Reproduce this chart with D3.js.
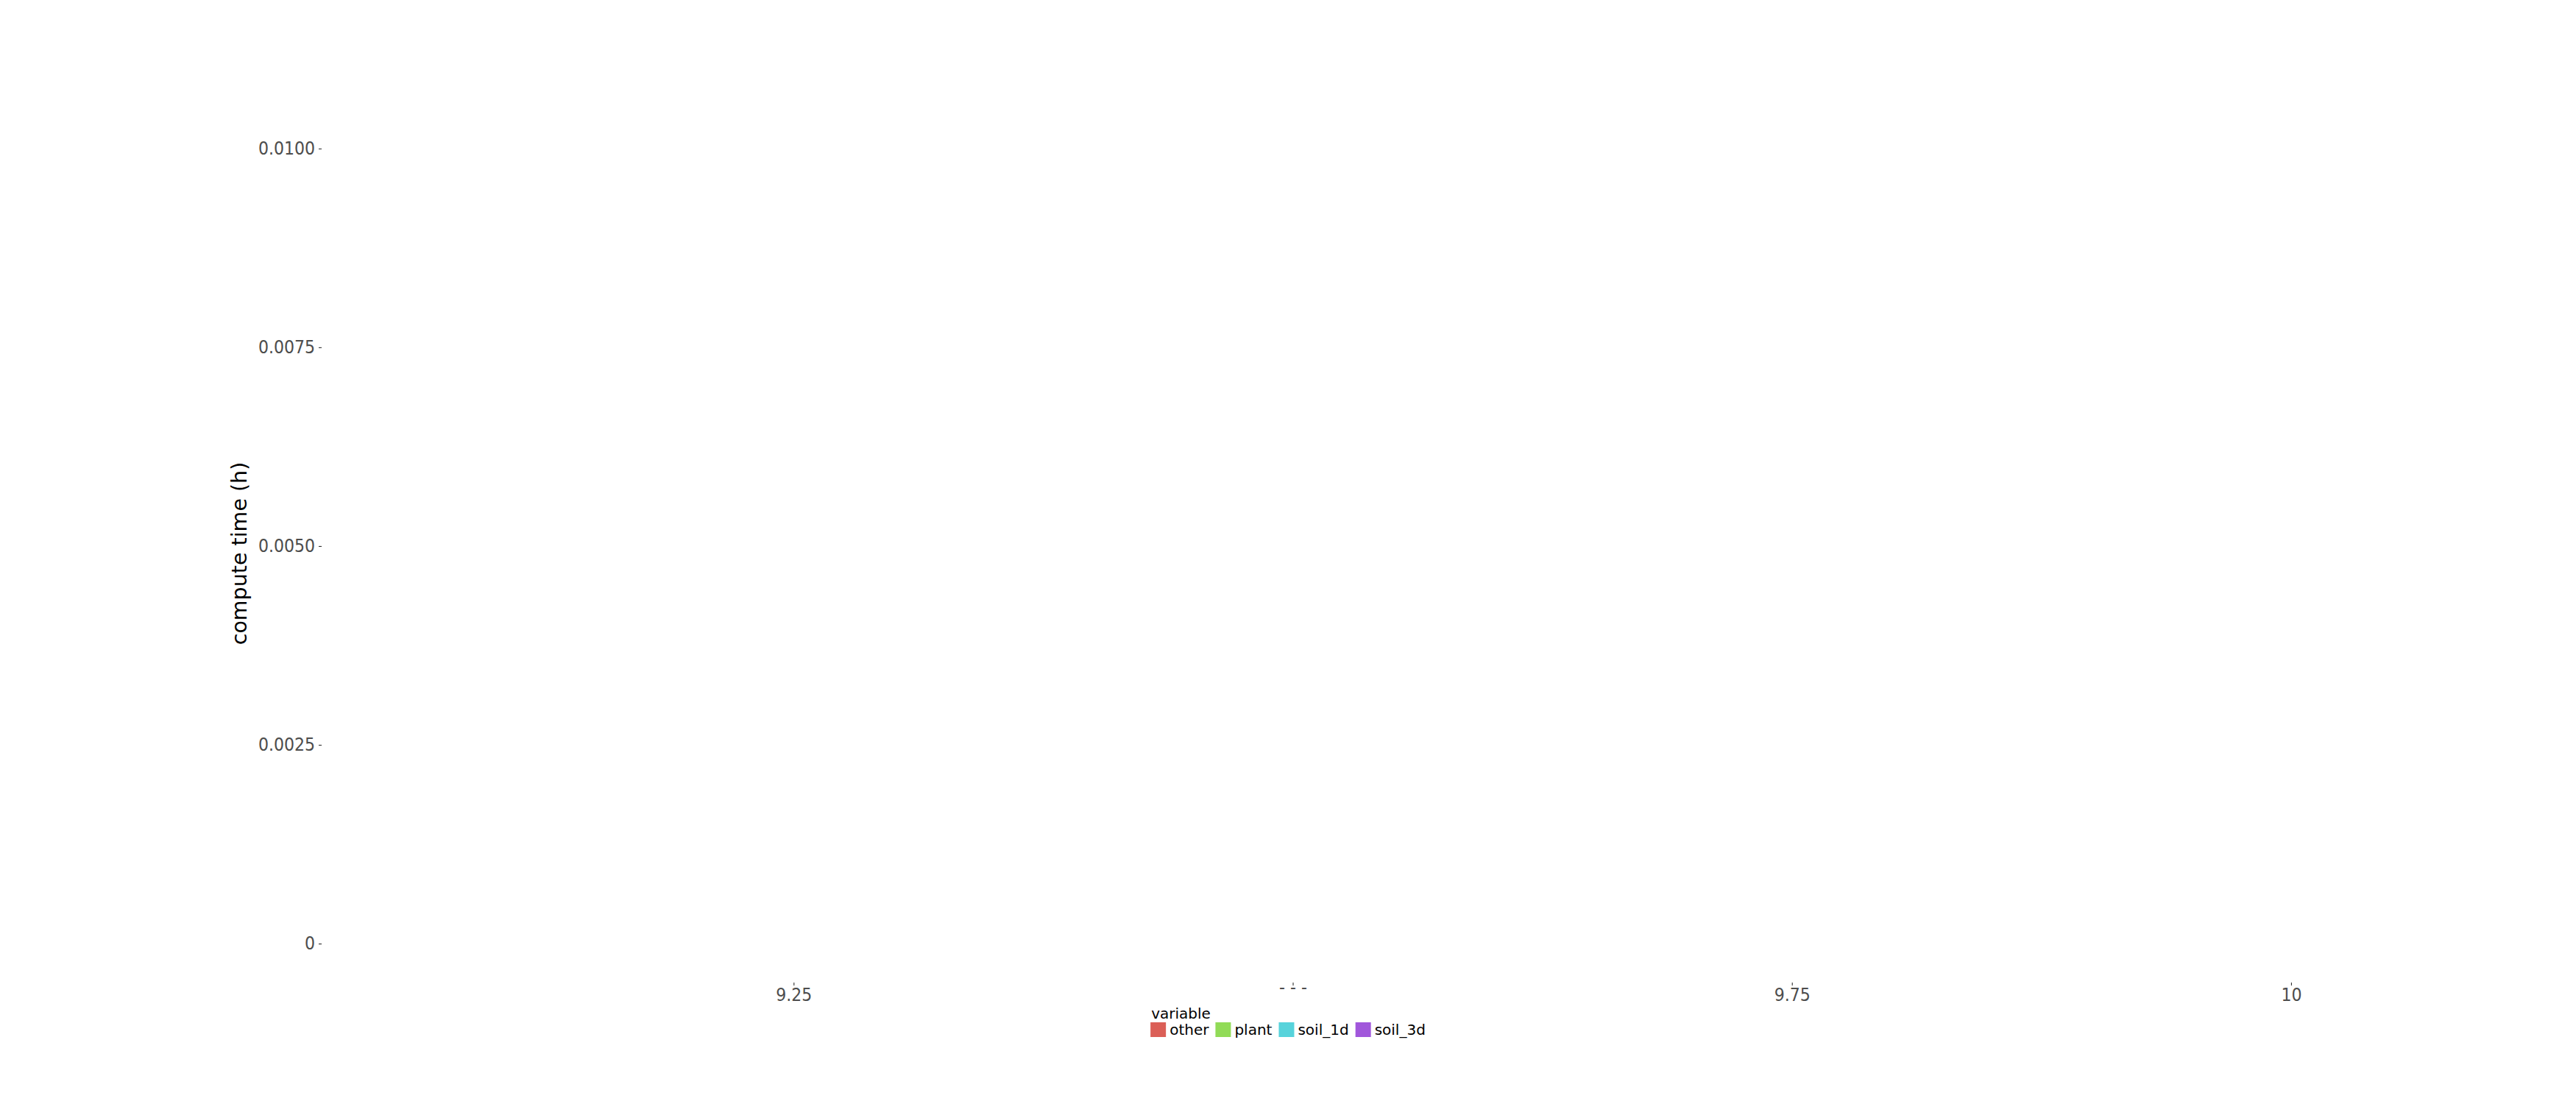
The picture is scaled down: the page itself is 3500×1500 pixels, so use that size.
<!DOCTYPE html>
<html>
<head>
<meta charset="utf-8">
<script src="https://d3js.org/d3.v7.min.js"></script>
<style>
  html, body { margin: 0; padding: 0; background: #ffffff; }
  svg { display: block; }
  .tick text { font-family: "DejaVu Sans Condensed", "DejaVu Sans", sans-serif; font-stretch: condensed; }
</style>
</head>
<body>
<svg id="chart" width="3500" height="1500"></svg>
<script>
// ---- data ----
const categories = ["other", "plant", "soil_1d", "soil_3d"];
const colors = ["#db5f57", "#91db57", "#57d3db", "#a157db"];
const yTicks = [0, 0.0025, 0.005, 0.0075, 0.01];
const yTickLabels = ["0", "0.0025", "0.0050", "0.0075", "0.0100"];
const xTicks = [9.25, 9.5, 9.75, 10];
const xTickLabels = ["9.25", "- - -", "9.75", "10"];
const seriesValues = []; // the panel is empty: no bars drawn
const yTitle = "compute time (h)";
const legendTitle = "variable";

// ---- layout ----
const W = 3500, H = 1500;
const svg = d3.select("#chart");
const panel = { left: 437, right: 3490, top: 137, bottom: 1335 };

const x = d3.scaleLinear().domain([9.0136, 10.139]).range([panel.left, panel.right]);
const y = d3.scaleLinear().domain([-0.00049, 0.0106]).range([panel.bottom, panel.top]);

svg.append("rect").attr("x", 0).attr("y", 0).attr("width", W).attr("height", H).attr("fill", "#ffffff");

// bars (none in this chart)
svg.append("g").selectAll("rect").data(seriesValues).join("rect")
  .attr("x", d => x(d.x)).attr("y", d => y(d.y)).attr("width", 10)
  .attr("height", d => y(0) - y(d.y)).attr("fill", (d, i) => colors[i % colors.length]);

// y axis
const yAxis = d3.axisLeft(y).tickValues(yTicks)
  .tickFormat((d, i) => yTickLabels[i]).tickSize(4).tickPadding(5);
const gy = svg.append("g").attr("transform", `translate(${panel.left},0)`).call(yAxis);
gy.select(".domain").remove();
gy.selectAll(".tick line").attr("stroke", "#333333").attr("stroke-width", 1.1);
gy.selectAll(".tick text").attr("fill", "#4d4d4d").attr("font-size", 24.5);

// x axis
const xAxis = d3.axisBottom(x).tickValues(xTicks)
  .tickFormat((d, i) => xTickLabels[i]).tickSize(4).tickPadding(4);
const gx = svg.append("g").attr("transform", `translate(0,${panel.bottom})`).call(xAxis);
gx.select(".domain").remove();
gx.selectAll(".tick line").attr("stroke", "#333333").attr("stroke-width", 1.1);
gx.selectAll(".tick text").attr("fill", "#4d4d4d").attr("font-size", 24.5)
  .filter((d, i) => xTickLabels[i] === "- - -").attr("dy", "0.3em");

// y axis title
svg.append("text")
  .attr("transform", `translate(335,${(panel.top + panel.bottom) / 2 + 16}) rotate(-90)`)
  .attr("text-anchor", "middle")
  .attr("font-family", "DejaVu Sans, sans-serif")
  .attr("font-size", 28.5)
  .attr("fill", "#000000")
  .text(yTitle);

// legend
const lg = svg.append("g").attr("font-family", "DejaVu Sans, sans-serif").attr("font-size", 20);
const keyW = 21, keyH = 20, keyGap = 5, itemGap = 9;
// measure widths first
const items = lg.selectAll("g.item").data(categories).join("g").attr("class", "item");
items.append("rect").attr("width", keyW).attr("height", keyH)
  .attr("fill", (d, i) => colors[i]);
items.append("text").attr("x", keyW + keyGap).attr("y", 16.5).attr("fill", "#000").text(d => d);
let widths = [];
items.each(function() {
  widths.push(keyW + keyGap + d3.select(this).select("text").node().getComputedTextLength());
});
const total = d3.sum(widths) + itemGap * (widths.length - 1);
const lx0 = W / 2 - total / 2;
let cx = lx0;
items.each(function(d, i) {
  d3.select(this).attr("transform", `translate(${cx},1389)`);
  cx += widths[i] + itemGap;
});
lg.append("text").attr("x", lx0 + 1).attr("y", 1384).attr("fill", "#000").text(legendTitle);
</script>
</body>
</html>
